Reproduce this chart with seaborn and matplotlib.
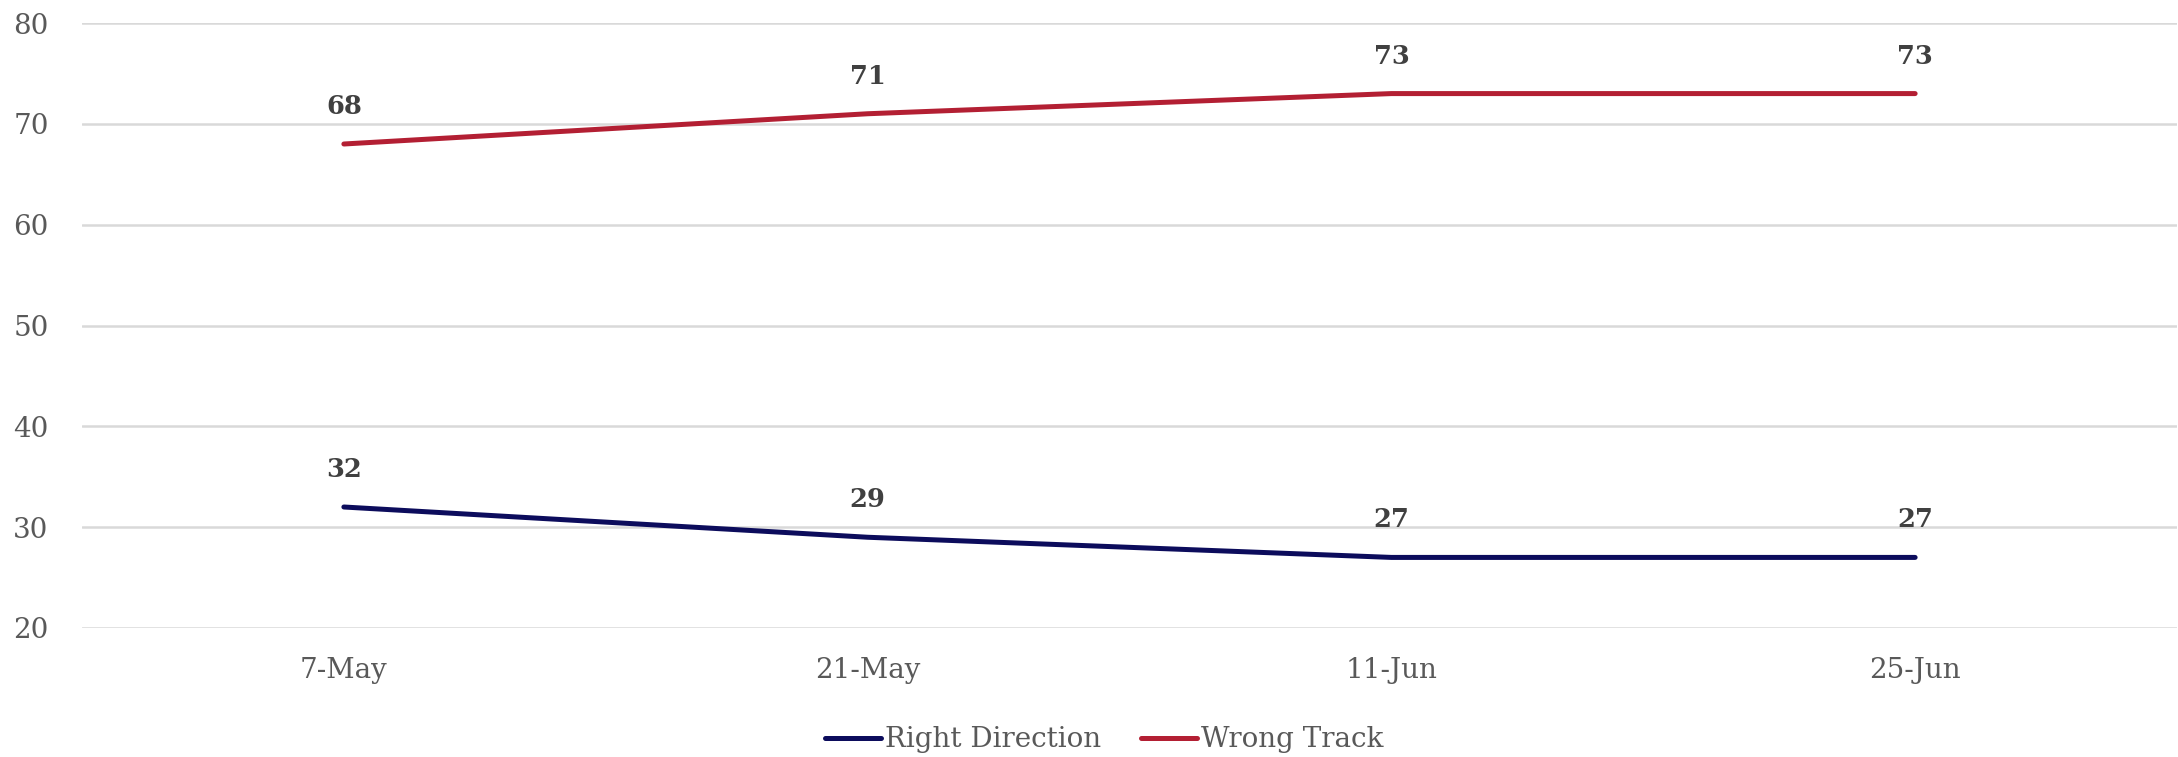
import matplotlib
matplotlib.use("Agg")
import matplotlib.pyplot as plt
import seaborn as sns
import pandas as pd

dates = ["7-May", "21-May", "11-Jun", "25-Jun"]
right_direction = [32, 29, 27, 27]
wrong_track = [68, 71, 73, 73]
series_names = ["Right Direction", "Wrong Track"]
colors = ["#0C0C5C", "#B31F33"]
y_ticks = [20, 30, 40, 50, 60, 70, 80]

sns.set_theme(style="white")
plt.rcParams["font.family"] = ["DejaVu Serif"]

df = pd.DataFrame({
    "date": dates * 2,
    "x": list(range(len(dates))) * 2,
    "value": right_direction + wrong_track,
    "series": [series_names[0]] * len(dates) + [series_names[1]] * len(dates),
})

fig = plt.figure(figsize=(21.78, 7.57), dpi=100)
ax = fig.add_axes([82 / 2178, 1 - 628 / 757, (2177 - 82) / 2178, (628 - 23) / 757])

sns.lineplot(data=df, x="x", y="value", hue="series", palette=colors,
             linewidth=3.6, ax=ax, legend=True, solid_capstyle="round")

ax.set_xlim(-0.5, len(dates) - 0.5)
ax.set_ylim(20, 80)
ax.set_yticks(y_ticks)
ax.set_xticks(range(len(dates)))
ax.set_xticklabels(dates)
ax.set_xlabel("")
ax.set_ylabel("")
ax.grid(axis="y", color="#D9D9D9", linewidth=1.8)
ax.set_axisbelow(True)
for s in ax.spines.values():
    s.set_visible(False)
ax.tick_params(axis="both", length=0, labelsize=20, labelcolor="#595959")
ax.tick_params(axis="y", pad=24)
ax.tick_params(axis="x", pad=21)

for vals in (right_direction, wrong_track):
    for i, v in enumerate(vals):
        ax.annotate(str(v), (i, v), xytext=(0, 27), textcoords="offset points",
                    ha="center", va="center", fontsize=18.5, fontweight="bold",
                    color="#404040")

handles, labels = ax.get_legend_handles_labels()
leg = ax.legend(handles, labels, loc="center", bbox_to_anchor=(0.488, -0.185),
                ncol=2, frameon=False, fontsize=20, handlelength=2.0,
                handletextpad=0.15, columnspacing=1.45)
for t in leg.get_texts():
    t.set_color("#595959")
for l in leg.get_lines():
    l.set_linewidth(3.6)
    l.set_solid_capstyle("round")

fig.savefig("out.png", dpi=100)
